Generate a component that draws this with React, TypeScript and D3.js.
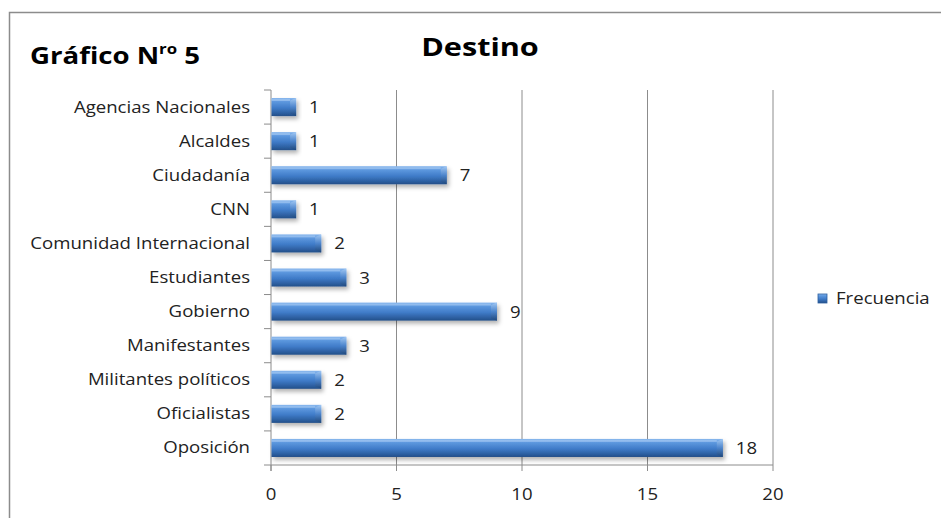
import React, { useEffect, useRef } from 'react';
import * as d3 from 'd3';

const categories = [
  'Agencias Nacionales',
  'Alcaldes',
  'Ciudadanía',
  'CNN',
  'Comunidad Internacional',
  'Estudiantes',
  'Gobierno',
  'Manifestantes',
  'Militantes políticos',
  'Oficialistas',
  'Oposición',
];
const frecuencia = [1, 1, 7, 1, 2, 3, 9, 3, 2, 2, 18];
const xTicks = [0, 5, 10, 15, 20];
const seriesName = 'Frecuencia';

const FONT = '"Open Sans", "DejaVu Sans", sans-serif';
const SX = 1.2; // the source text is stretched horizontally

export default function App() {
  const svgRef = useRef<SVGSVGElement | null>(null);

  useEffect(() => {
    if (!svgRef.current) return;
    const width = 941;
    const height = 518;
    const margin = { top: 90, right: 168, bottom: 53, left: 271 };
    const w = width - margin.left - margin.right;
    const h = height - margin.top - margin.bottom;

    d3.select(svgRef.current).selectAll('*').remove();
    const svg = d3.select(svgRef.current).attr('width', width).attr('height', height);

    const defs = svg.append('defs');
    const grad = defs.append('linearGradient').attr('id', 'barGrad')
      .attr('x1', 0).attr('y1', 0).attr('x2', 0).attr('y2', 1);
    [
      ['0%', '#8ab8ee'],
      ['18%', '#5f9ae0'],
      ['55%', '#3f7bc8'],
      ['85%', '#2c5e9f'],
      ['100%', '#244f88'],
    ].forEach(([o, c]) => grad.append('stop').attr('offset', o).attr('stop-color', c));
    const capGrad = defs.append('linearGradient').attr('id', 'capGrad')
      .attr('x1', 0).attr('y1', 0).attr('x2', 0).attr('y2', 1);
    [
      ['0%', '#a9cdf5'],
      ['50%', '#4f86cc'],
      ['100%', '#1f4677'],
    ].forEach(([o, c]) => capGrad.append('stop').attr('offset', o).attr('stop-color', c));
    const filt = defs.append('filter').attr('id', 'shadow')
      .attr('x', '-10%').attr('y', '-40%').attr('width', '130%').attr('height', '200%');
    filt.append('feDropShadow').attr('dx', 2).attr('dy', 3).attr('stdDeviation', 2)
      .attr('flood-color', '#000').attr('flood-opacity', 0.3);

    // chart frame
    svg.append('path')
      .attr('d', `M${width},12.5 H9.5 V${height}`)
      .attr('fill', 'none').attr('stroke', '#8c8c8c').attr('stroke-width', 1.5);

    const g = svg.append('g').attr('transform', `translate(${margin.left},${margin.top})`);

    const x = d3.scaleLinear().domain([0, 20]).range([0, w]);
    const y = d3.scaleBand().domain(categories).range([0, h]).paddingInner(0.47).paddingOuter(0.235);
    const band = d3.scaleBand().domain(categories).range([0, h]);

    // gridlines
    g.selectAll('line.grid').data(xTicks.slice(1)).join('line')
      .attr('class', 'grid')
      .attr('x1', d => x(d)).attr('x2', d => x(d))
      .attr('y1', 0).attr('y2', h)
      .attr('stroke', '#8c8c8c').attr('stroke-width', 1);

    // x axis
    g.append('line').attr('x1', 0).attr('x2', w).attr('y1', h).attr('y2', h).attr('stroke', '#8c8c8c');
    g.selectAll('line.xtick').data(xTicks).join('line')
      .attr('class', 'xtick')
      .attr('x1', d => x(d)).attr('x2', d => x(d))
      .attr('y1', h).attr('y2', h + 6)
      .attr('stroke', '#8c8c8c');
    g.selectAll('text.xlab').data(xTicks).join('text')
      .attr('class', 'xlab')
      .attr('transform', d => `translate(${x(d)},${h + 35}) scale(${SX},1)`)
      .attr('text-anchor', 'middle')
      .attr('fill', '#222')
      .style('font-family', FONT).style('font-size', '15.5px')
      .text(d => d);

    // y axis
    g.append('line').attr('x1', 0).attr('x2', 0).attr('y1', 0).attr('y2', h + 6)
      .attr('stroke', '#8c8c8c');
    const bounds = categories.map(c => band(c) as number).concat([h]);
    g.selectAll('line.ytick').data(bounds).join('line')
      .attr('class', 'ytick')
      .attr('x1', -7).attr('x2', 0)
      .attr('y1', d => d).attr('y2', d => d)
      .attr('stroke', '#8c8c8c');
    g.selectAll('text.ylab').data(categories).join('text')
      .attr('class', 'ylab')
      .attr('transform', d => `translate(-21,${(band(d) as number) + band.bandwidth() / 2 + 5.5}) scale(${SX},1)`)
      .attr('text-anchor', 'end')
      .attr('fill', '#222')
      .style('font-family', FONT).style('font-size', '15.5px')
      .text(d => d);

    // bars
    const bh = y.bandwidth();
    const cap = 6;
    const bars = g.selectAll('g.bar').data(categories).join('g')
      .attr('class', 'bar')
      .attr('filter', 'url(#shadow)');
    bars.append('rect')
      .attr('x', 0.5)
      .attr('y', d => y(d) as number)
      .attr('width', (d, i) => x(frecuencia[i]) - 0.5)
      .attr('height', bh)
      .attr('fill', 'url(#barGrad)');
    bars.append('path')
      .attr('d', (d, i) => {
        const xe = x(frecuencia[i]);
        const y0 = y(d) as number;
        return `M${xe - cap},${y0 + 2.5} L${xe},${y0} L${xe},${y0 + bh} L${xe - cap},${y0 + bh - 2.5} Z`;
      })
      .attr('fill', 'url(#capGrad)').attr('opacity', 0.85);
    bars.append('rect')
      .attr('x', 0.5)
      .attr('y', d => (y(d) as number) + 1)
      .attr('width', (d, i) => Math.max(0, x(frecuencia[i]) - cap - 0.5))
      .attr('height', 2)
      .attr('fill', '#a8cbf3').attr('opacity', 0.6);

    // value labels
    g.selectAll('text.val').data(categories).join('text')
      .attr('class', 'val')
      .attr('transform', (d, i) => `translate(${x(frecuencia[i]) + 13},${(y(d) as number) + bh / 2 + 6}) scale(${SX},1)`)
      .attr('fill', '#222')
      .style('font-family', FONT).style('font-size', '15.5px')
      .text((d, i) => frecuencia[i]);

    // titles
    svg.append('text')
      .attr('transform', `translate(480,56) scale(${SX},1)`)
      .attr('text-anchor', 'middle').attr('fill', '#000')
      .style('font-family', FONT).style('font-weight', 700).style('font-size', '25.5px')
      .text('Destino');
    const gt = svg.append('text')
      .attr('transform', `translate(30,64) scale(${SX},1)`)
      .attr('fill', '#000')
      .style('font-family', FONT).style('font-weight', 700).style('font-size', '23px');
    gt.append('tspan').text('Gráfico N');
    gt.append('tspan').attr('dy', -10).style('font-size', '14px').text('ro');
    gt.append('tspan').attr('dy', 10).text(' 5');

    // legend
    const lg = svg.append('g').attr('transform', 'translate(818,294)');
    lg.append('rect').attr('width', 9).attr('height', 9)
      .attr('fill', 'url(#barGrad)').attr('stroke', '#2c5e9f').attr('stroke-width', 0.8);
    lg.append('text')
      .attr('transform', `translate(18,9.5) scale(${SX},1)`)
      .attr('fill', '#222')
      .style('font-family', FONT).style('font-size', '15.5px')
      .text(seriesName);
  }, []);

  return (
    <div style={{ position: 'absolute', left: 0, top: 0, width: 941, height: 518, background: '#fff' }}>
      <svg ref={svgRef} style={{ display: 'block' }} />
    </div>
  );
}
